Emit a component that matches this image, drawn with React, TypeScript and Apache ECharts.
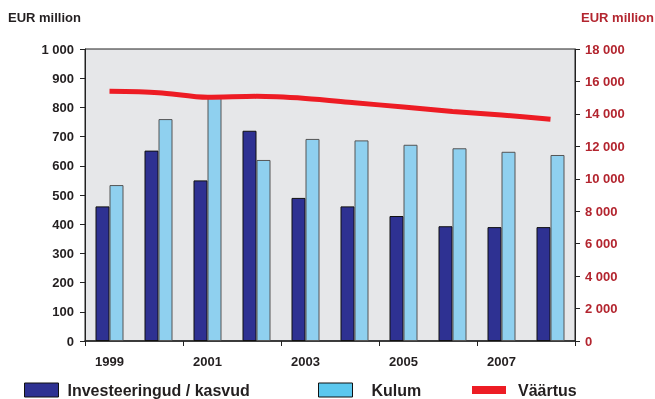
import React, { useEffect, useRef } from "react";
import * as echarts from "echarts";

const years = ["1999", "2000", "2001", "2002", "2003", "2004", "2005", "2006", "2007", "2008"];
const investeeringud = [461, 652, 550, 720, 490, 461, 428, 393, 390, 390];
const kulum = [534, 760, 838, 620, 692, 687, 672, 660, 648, 637];
const vaartus = [15390, 15310, 15020, 15080, 14950, 14690, 14420, 14150, 13930, 13670];
const leftTicks = [0, 100, 200, 300, 400, 500, 600, 700, 800, 900, 1000];
const rightTicks = [0, 2000, 4000, 6000, 8000, 10000, 12000, 14000, 16000, 18000];

const fmt = (v: number) => String(v).replace(/\B(?=(\d{3})+(?!\d))/g, " ");

export default function App() {
  const ref = useRef<HTMLDivElement>(null);
  useEffect(() => {
    if (!ref.current) return;
    const chart = echarts.init(ref.current, null, { renderer: "svg" });
    const font = "'Liberation Sans', Arial, sans-serif";
    const dark = "#231f20";
    const red = "#b3252f";
    chart.setOption({
      animation: false,
      textStyle: { fontFamily: font },
      grid: {
        left: 85, right: 80, top: 49, bottom: 58,
        show: true, backgroundColor: "#e6e7e9", borderColor: "#222", borderWidth: 1,
      },
      graphic: [
        { type: "text", left: 8, top: 11, style: { text: "EUR million", font: `bold 13px ${font}`, fill: dark } },
        { type: "text", right: 1, top: 11, style: { text: "EUR million", font: `bold 13px ${font}`, fill: red } },
      ],
      legend: [
        {
          left: 24, top: 382, itemWidth: 34, itemHeight: 14, itemGap: 10, icon: "rect", padding: 0,
          textStyle: { fontSize: 16, fontWeight: "bold", color: dark, fontFamily: font, padding: [0, 0, 0, 4] },
          data: [{ name: "Investeeringud / kasvud", itemStyle: { color: "#2e3192", borderColor: "#111", borderWidth: 1 } }],
        },
        {
          left: 318, top: 382, itemWidth: 34, itemHeight: 14, itemGap: 10, icon: "rect", padding: 0,
          textStyle: { fontSize: 16, fontWeight: "bold", color: dark, fontFamily: font, padding: [0, 0, 0, 14] },
          data: [{ name: "Kulum", itemStyle: { color: "#5bc8ef", borderColor: "#111", borderWidth: 1 } }],
        },
        {
          left: 472, top: 382, itemWidth: 34, itemHeight: 8, itemGap: 10, icon: "rect", padding: 0,
          textStyle: { fontSize: 16, fontWeight: "bold", color: dark, fontFamily: font, padding: [0, 0, 0, 7] },
          data: [{ name: "Väärtus", itemStyle: { color: "#ed1c24", borderWidth: 0 } }],
        },
      ],
      xAxis: {
        type: "category",
        data: years,
        axisLine: { lineStyle: { color: "#222", width: 1.5 } },
        axisTick: { show: true, length: 5, lineStyle: { color: "#222" } },
        axisLabel: { interval: 1, color: dark, fontWeight: "bold", fontSize: 13, margin: 14, fontFamily: font },
      },
      yAxis: [
        {
          type: "value", min: 0, max: 1000, interval: 100,
          splitLine: { show: false },
          axisLine: { show: true, lineStyle: { color: "#222" } },
          axisTick: { show: true, length: 5, lineStyle: { color: "#222" } },
          axisLabel: { color: dark, fontWeight: "bold", fontSize: 13, margin: 11, fontFamily: font, formatter: (v: number) => leftTicks.includes(v) ? fmt(v) : "" },
        },
        {
          type: "value", min: 0, max: 18000, interval: 2000,
          splitLine: { show: false },
          axisLine: { show: true, lineStyle: { color: "#222" } },
          axisTick: { show: true, length: 5, lineStyle: { color: "#222" } },
          axisLabel: { color: red, fontWeight: "bold", fontSize: 13, margin: 10, fontFamily: font, formatter: (v: number) => rightTicks.includes(v) ? fmt(v) : "" },
        },
      ],
      series: [
        {
          name: "Investeeringud / kasvud", type: "bar", data: investeeringud, barWidth: 14, barGap: "0%",
          itemStyle: { color: "#2e3192", borderColor: "#111", borderWidth: 1 },
        },
        {
          name: "Kulum", type: "bar", data: kulum, barWidth: 14,
          itemStyle: { color: "#8fd0ef", borderColor: "#555", borderWidth: 1 },
        },
        {
          name: "Väärtus", type: "line", yAxisIndex: 1, data: vaartus, smooth: 0.3,
          symbol: "none", lineStyle: { color: "#ed1c24", width: 5 }, itemStyle: { color: "#ed1c24" },
        },
      ],
    });
    return () => chart.dispose();
  }, []);
  return <div ref={ref} style={{ position: "fixed", left: 0, top: 0, width: 655, height: 399 }} />;
}
